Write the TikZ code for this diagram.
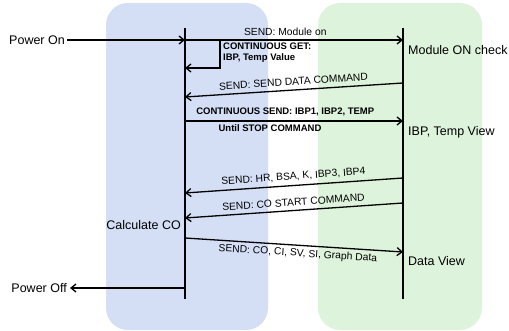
\documentclass[tikz,border=0pt]{standalone}
\usepackage{fontspec}
\setmainfont{Liberation Sans}
\usetikzlibrary{arrows.meta}
\definecolor{hostblue}{RGB}{212,223,246}
\definecolor{modgreen}{RGB}{222,243,219}
\tikzset{
  life/.style={line width=1.4pt},
  msg/.style={line width=1.3pt,-{Straight Barb[length=5pt,width=8pt]}},
  bigtxt/.style={font=\fontsize{12.5}{14}\selectfont,inner sep=0pt},
  msgtxt/.style={font=\fontsize{10.3}{12}\selectfont,inner sep=0pt},
  boldtxt/.style={font=\bfseries\fontsize{9.5}{10.5}\selectfont,inner sep=0pt},
}
\begin{document}
\begin{tikzpicture}[x=1pt,y=-1pt]
\useasboundingbox (0,0) rectangle (509,331);
% the two sides: host on the left, module on the right
\fill[hostblue,rounded corners=22pt] (106,3) rectangle (268,330);
\fill[modgreen,rounded corners=22pt] (318,3) rectangle (482,330);
% the lifelines
\coordinate (hTop) at (185,28); \coordinate (hBot) at (185,299);
\coordinate (mTop) at (403,28); \coordinate (mBot) at (403,299);
\draw[life] (hTop) -- (hBot);
\draw[life] (mTop) -- (mBot);
% the points where the messages meet the lifelines
\coordinate (h1) at (185,40);  \coordinate (m1) at (403,40);
\coordinate (loop) at (220,68); \coordinate (h2) at (185,68);
\coordinate (m3) at (403,83);  \coordinate (h3) at (185,97);
\coordinate (h4) at (185,121); \coordinate (m4) at (403,121);
\coordinate (m5) at (403,178); \coordinate (h5) at (185,193);
\coordinate (m6) at (403,203); \coordinate (h6) at (185,218);
\coordinate (h7) at (185,238); \coordinate (m7) at (403,252);
\coordinate (h8) at (185,288);
% power on and off
\node[bigtxt,anchor=east] (pon) at (65,40) {Power On};
\node[bigtxt,anchor=east] (poff) at (67,288) {Power Off};
\coordinate (ponEnd) at ([xshift=2pt]pon.east);
\coordinate (poffEnd) at ([xshift=3pt]poff.east);
\draw[msg] (ponEnd) -- (h1);
\draw[msg] (h8) -- (poffEnd);
% the states on both sides
\node[bigtxt,anchor=base west] (chk) at (408,55) {Module ON check};
\node[bigtxt,anchor=base west] (view) at (408,136) {IBP, Temp View};
\node[bigtxt,anchor=base west] (dview) at (408,266) {Data View};
\node[bigtxt,anchor=base east] (calc) at (181,230) {Calculate CO};
% the messages
\draw[msg] (h1) -- node[msgtxt,above=3.5pt,pos=0.46] (lbl1) {SEND: Module on} (m1);
\draw[msg] (h1) -| (loop) -- (h2);
\node[boldtxt,anchor=north west,align=left] (getlbl) at (223,43) {CONTINUOUS GET:\\IBP, Temp Value};
\draw[msg] (m3) -- node[msgtxt,sloped,above=4pt] (lbl3) {SEND: SEND DATA COMMAND} (h3);
\draw[msg] (h4) -- node[boldtxt,above=4pt,pos=0.46] (lbl4) {CONTINUOUS SEND: IBP1, IBP2, TEMP} (m4);
\node[boldtxt,anchor=base] (untl) at (270,132) {Until STOP COMMAND};
\draw[msg] (m5) -- node[msgtxt,sloped,above=4pt] (lbl5) {SEND: HR, BSA, K, IBP3, IBP4} (h5);
\draw[msg] (m6) -- node[msgtxt,sloped,above=4pt] (lbl6) {SEND: CO START COMMAND} (h6);
\draw[msg] (h7) -- node[msgtxt,sloped,below=3pt,pos=0.52] (lbl7) {SEND: CO, CI, SV, SI, Graph Data} (m7);
\end{tikzpicture}
\end{document}
